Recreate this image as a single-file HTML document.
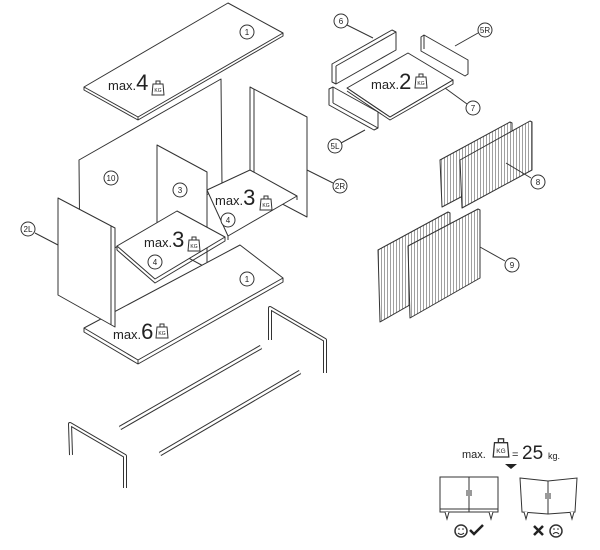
<!DOCTYPE html>
<html><head><meta charset="utf-8"><style>
html,body{margin:0;padding:0;background:#fff;width:600px;height:550px;overflow:hidden}
svg{display:block}
text{font-family:"Liberation Sans",sans-serif;fill:#222}
</style></head><body>
<svg width="600" height="550" viewBox="0 0 600 550" xmlns="http://www.w3.org/2000/svg">
<defs>
<g id="kg"><path d="M-6,0 L6,0 L5,-11 L-5,-11 Z M-2,-11 L-2,-14 L2,-14 L2,-11" fill="#fff" stroke="#333" stroke-width="1"/><text x="0" y="-3" font-size="5" text-anchor="middle">KG</text></g>
<pattern id="stripe" width="3" height="10" patternUnits="userSpaceOnUse"><rect width="3" height="10" fill="#fff"/><line x1="0.5" y1="0" x2="0.5" y2="10" stroke="#777" stroke-width="0.7"/></pattern>
</defs>
<g fill="#fff" stroke="#333" stroke-width="1" stroke-linejoin="round">
<polygon points="84,87 228,3 283,33 283,36 138,120 84,90"/>
<polyline points="84,87 138,117 283,33" fill="none"/>
<line x1="138" y1="117" x2="138" y2="120"/>
<polygon points="79,160 221,79 222,186 80,268"/>
<polygon points="250,87 307,117 307,217 250,187"/>
<line x1="254" y1="89" x2="254" y2="185"/>
<polygon points="207,190 250,170 297,196 228,236"/>
<line x1="228" y1="236" x2="228" y2="240"/><line x1="297" y1="196" x2="297" y2="200"/>
<polygon points="157,145 207,172 207,268 157,241"/>
<polygon points="117,246 177,211 225,237 155,279"/>
<polyline points="117,246 117,250 155,283 225,241 225,237" fill="none"/>
<polygon points="84,328 240,245 283,278 138,360"/>
<polyline points="84,328 84,332 138,364 283,282 283,278" fill="none"/>
<line x1="138" y1="360" x2="138" y2="364"/>
<polygon points="58,198 115,228 115,327 58,295"/>
<line x1="111" y1="226" x2="111" y2="325"/>
<polyline points="270,340 270,308 325,340 325,373" fill="none" stroke-width="4"/>
<polyline points="270,340 270,308 325,340 325,373" fill="none" stroke="#fff" stroke-width="2"/>
<polyline points="71,455 70,424 125,456 125,488" fill="none" stroke-width="4"/>
<polyline points="71,455 70,424 125,456 125,488" fill="none" stroke="#fff" stroke-width="2"/>
<line x1="120" y1="428" x2="261" y2="347" stroke-width="4.5"/>
<line x1="120" y1="428" x2="261" y2="347" stroke="#fff" stroke-width="2.5"/>
<line x1="160" y1="454" x2="300" y2="372" stroke-width="4.5"/>
<line x1="160" y1="454" x2="300" y2="372" stroke="#fff" stroke-width="2.5"/>
<polygon points="347,88 408,53 453,80 390,117"/>
<polyline points="347,88 390,117 453,80 453,84 390,120 347,91" fill="none"/>
<polygon points="332,64 392,30 396,32 396,50 336,84 332,82"/>
<line x1="336" y1="66" x2="336" y2="84"/><line x1="336" y1="66" x2="396" y2="32"/>
<polygon points="421,37 424,35 468,60 468,74 465,76 421,51"/>
<line x1="424" y1="35" x2="424" y2="49"/>
<polygon points="329,89 333,87 378,112 378,128 374,130 329,105"/>
<line x1="333" y1="87" x2="333" y2="103"/><line x1="333" y1="103" x2="378" y2="128"/>
<polygon points="440,160 510,122 512,123 512,170 442,207" fill="url(#stripe)"/>
<polygon points="460,160 530,121 532,122 532,170 462,208" fill="url(#stripe)"/>
<polygon points="378,250 448,212 450,213 450,282 380,322" fill="url(#stripe)"/>
<polygon points="408,246 478,209 480,210 480,278 410,318" fill="url(#stripe)"/>
<line x1="35" y1="233" x2="58" y2="245"/>
<line x1="307" y1="170" x2="333" y2="183"/>
<line x1="347" y1="25" x2="373" y2="38"/>
<line x1="478" y1="33" x2="455" y2="46"/>
<line x1="445" y1="88" x2="467" y2="104"/>
<line x1="365" y1="130" x2="341" y2="143"/>
<line x1="506" y1="163" x2="531" y2="178"/>
<line x1="480" y1="247" x2="505" y2="261"/>
</g>
<g fill="#fff" stroke="#333" stroke-width="1">
<circle cx="247" cy="32" r="7"/><circle cx="111" cy="178" r="7"/><circle cx="180" cy="190" r="7"/>
<circle cx="228" cy="220" r="7"/><circle cx="155" cy="262" r="7"/><circle cx="247" cy="279" r="7"/>
<circle cx="28" cy="229" r="7"/><circle cx="340" cy="186" r="7"/><circle cx="341" cy="21" r="7"/>
<circle cx="485" cy="30" r="7"/><circle cx="473" cy="108" r="7"/><circle cx="335" cy="146" r="7"/>
<circle cx="538" cy="182" r="7"/><circle cx="512" cy="265" r="7"/>
</g>
<g font-size="8" text-anchor="middle">
<text x="247" y="35">1</text><text x="111" y="181">10</text><text x="180" y="193">3</text>
<text x="228" y="223">4</text><text x="155" y="265">4</text><text x="247" y="282">1</text>
<text x="28" y="232">2L</text><text x="340" y="189">2R</text><text x="341" y="24">6</text>
<text x="485" y="33">5R</text><text x="473" y="111">7</text><text x="335" y="149">5L</text>
<text x="538" y="185">8</text><text x="512" y="268">9</text>
</g>
<text x="108" y="90" font-size="13">max.<tspan font-size="22">4</tspan></text><use href="#kg" x="158" y="95"/>
<text x="215" y="205" font-size="13">max.<tspan font-size="22">3</tspan></text><use href="#kg" x="266" y="210"/>
<text x="144" y="247" font-size="13">max.<tspan font-size="22">3</tspan></text><use href="#kg" x="194" y="251"/>
<text x="113" y="339" font-size="13">max.<tspan font-size="22">6</tspan></text><use href="#kg" x="162" y="338"/>
<text x="371" y="89" font-size="13">max.<tspan font-size="22">2</tspan></text><use href="#kg" x="421" y="88"/>
<text x="462" y="458" font-size="11">max.</text>
<g transform="translate(501,457) scale(1.3)"><use href="#kg"/></g>
<text x="512" y="458" font-size="11">=</text>
<text x="522" y="459" font-size="19">25</text><text x="548" y="459" font-size="9">kg.</text>
<polygon points="505,464 517,464 511,469" fill="#222"/>
<g fill="#fff" stroke="#333" stroke-width="1">
<rect x="440" y="477" width="58" height="35"/><line x1="469" y1="477" x2="469" y2="512"/>
<line x1="440" y1="509" x2="498" y2="509"/>
<polyline points="445,512 447,519 449,512" /><polyline points="489,512 491,519 493,512"/>
<line x1="467" y1="490" x2="467" y2="496"/><line x1="471" y1="490" x2="471" y2="496"/>
<polygon points="520,478 548,481 577,478 575,512 548,514 522,512"/>
<line x1="548" y1="481" x2="548" y2="514"/>
<polyline points="524,512 526,519 528,512"/><polyline points="570,512 572,519 574,512"/>
<line x1="546" y1="493" x2="546" y2="499"/><line x1="550" y1="493" x2="550" y2="499"/>
<circle cx="461" cy="531" r="6" stroke-width="1.5"/><circle cx="556" cy="531" r="6" stroke-width="1.5"/>
</g>
<path d="M458,533 q3,3 6,0" stroke="#222" fill="none"/>
<path d="M553,534 q3,-3 6,0" stroke="#222" fill="none"/>
<circle cx="459" cy="529" r="0.8" fill="#222"/><circle cx="463" cy="529" r="0.8" fill="#222"/>
<circle cx="554" cy="529" r="0.8" fill="#222"/><circle cx="558" cy="529" r="0.8" fill="#222"/>
<path d="M470,530 l4,4 l9,-9" stroke="#222" stroke-width="2.5" fill="none"/>
<path d="M534,526 l9,9 M543,526 l-9,9" stroke="#222" stroke-width="2.5" fill="none"/>
</svg>
</body></html>
